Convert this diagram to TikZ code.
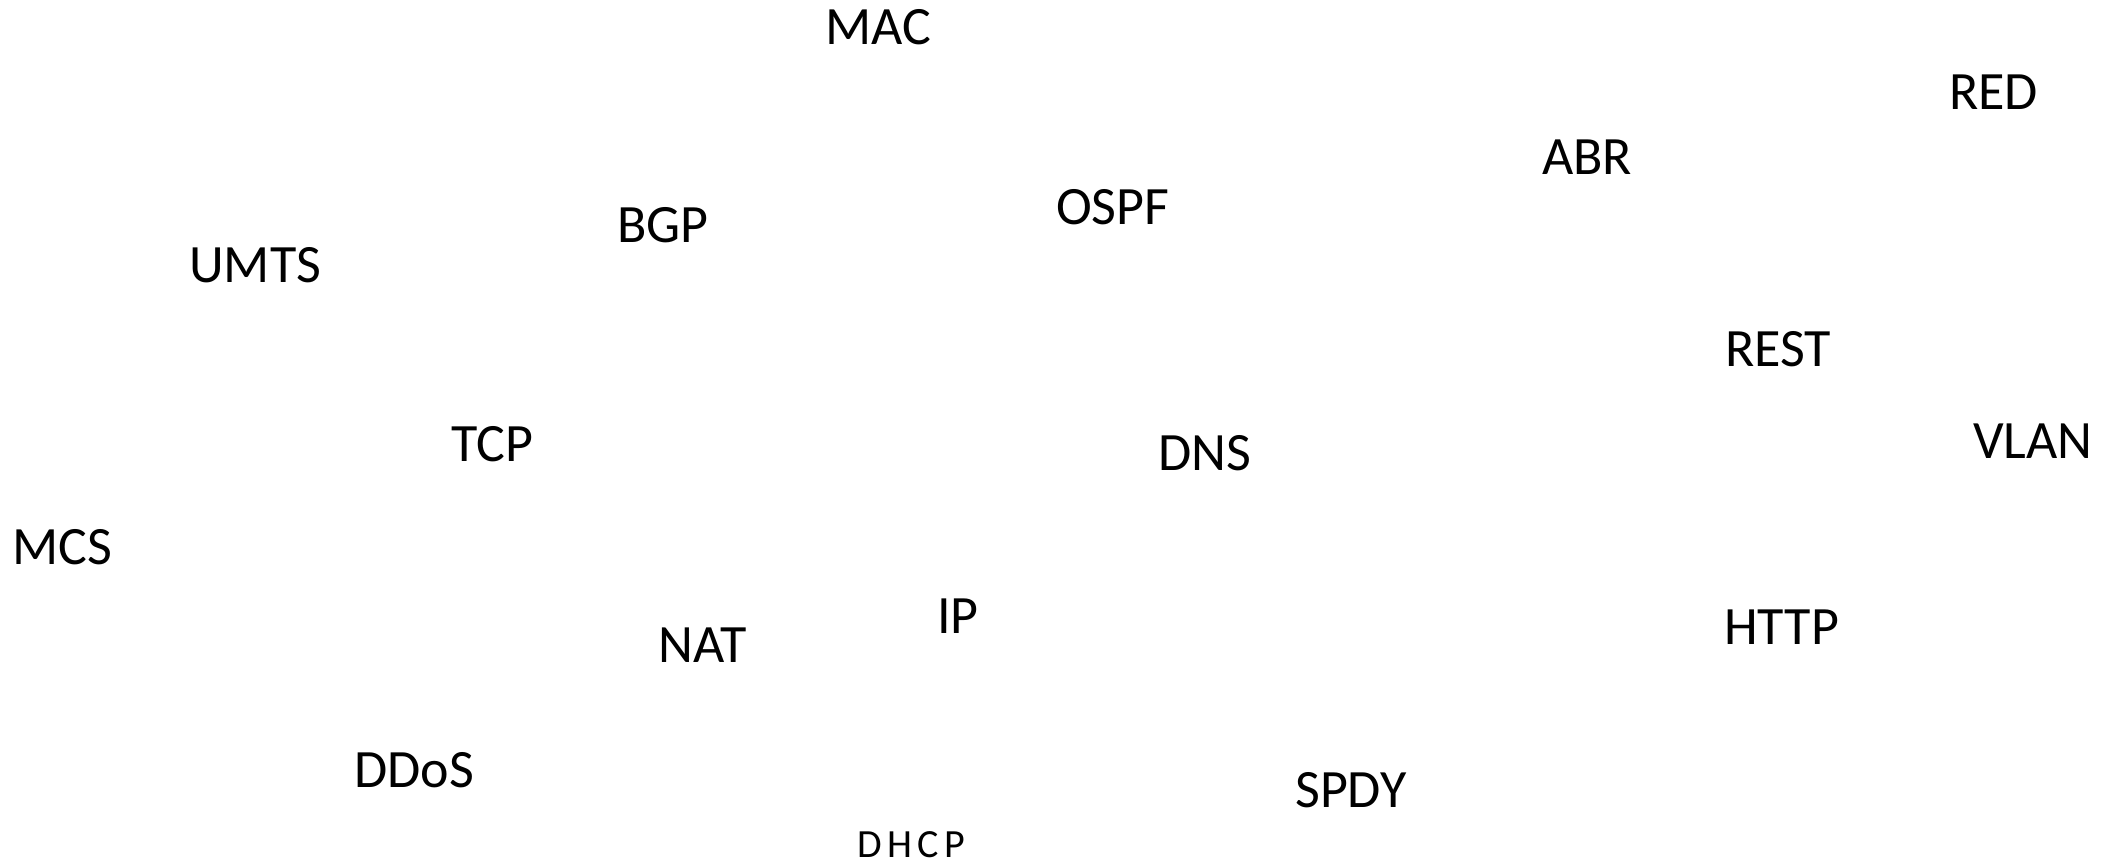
\documentclass[tikz,border=0pt]{standalone}
\usepackage{fontspec}
\setmainfont{Carlito}
\newfontfamily\spacedfont[LetterSpace=14]{Carlito}
\begin{document}
\begin{tikzpicture}[x=1pt,y=-1pt,
  word/.style={anchor=base west,inner sep=0pt,font=\fontsize{54}{54}\selectfont},
  smallword/.style={anchor=base west,inner sep=0pt,font=\spacedfont\fontsize{40}{40}\selectfont}]
\useasboundingbox (0,0) rectangle (2110,863);
\node[word] (mac)  at (825,44)   {MAC};
\node[word] (red)  at (1949,109) {RED};
\node[word] (abr)  at (1542,174) {ABR};
\node[word] (ospf) at (1056,224) {OSPF};
\node[word] (bgp)  at (617,242)  {BGP};
\node[word] (umts) at (189,282)  {UMTS};
\node[word] (rest) at (1725,366) {REST};
\node[word] (vlan) at (1973,458) {VLAN};
\node[word] (tcp)  at (451,461)  {TCP};
\node[word] (dns)  at (1158,470) {DNS};
\node[word] (mcs)  at (12,564)   {MCS};
\node[word] (ip)   at (937,633)  {IP};
\node[word] (nat)  at (658,662)  {NAT};
\node[word] (http) at (1724,644) {HTTP};
\node[word] (ddos) at (354,787)  {DDoS};
\node[word] (spdy) at (1295,807) {SPDY};
\node[smallword] (dhcp) at (857,857) {DHCP};
\end{tikzpicture}
\end{document}
